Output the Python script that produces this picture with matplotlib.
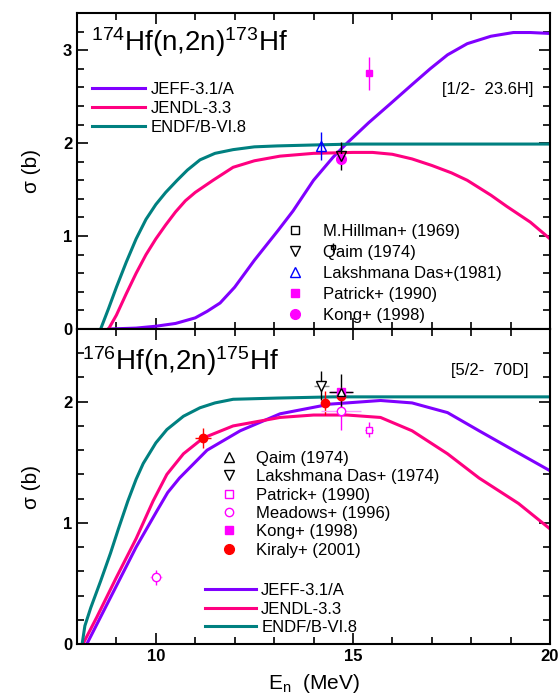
import numpy as np
import matplotlib
matplotlib.use('Agg')
import matplotlib.pyplot as plt
from matplotlib.lines import Line2D

plt.rcParams['font.family'] = ['Liberation Sans', 'DejaVu Sans']
plt.rcParams['mathtext.fontset'] = 'custom'
plt.rcParams['mathtext.rm'] = 'Liberation Sans'
plt.rcParams['mathtext.it'] = 'Liberation Sans:italic'
plt.rcParams['mathtext.bf'] = 'Liberation Sans:bold'

# colours
c_jeff = '#8000ff'
c_jendl = '#ff0080'
c_endf = '#008080'
c_mag = '#ff00ff'

# ---------------- 174Hf(n,2n)173Hf evaluations ----------------
e_jeff_a = [8.8, 9.5, 10.0, 10.5, 11.0, 11.3, 11.63, 12.0, 12.5, 13.1, 13.48, 14.0,
            14.5, 14.85, 15.4, 15.94, 16.5, 16.96, 17.4, 17.9, 18.5, 19.07, 19.5, 20.0]
s_jeff_a = [0.0, 0.01, 0.03, 0.06, 0.12, 0.19, 0.28, 0.45, 0.74, 1.06, 1.27, 1.6,
            1.85, 2.0, 2.22, 2.42, 2.63, 2.8, 2.95, 3.07, 3.15, 3.19, 3.19, 3.18]

e_jendl_a = [8.8, 9.0, 9.25, 9.5, 9.75, 10.0, 10.25, 10.5, 10.75, 11.0, 11.45, 11.96, 12.5,
             13.15, 14.0, 15.0, 15.5, 16.0, 16.5, 17.0, 17.5, 17.9, 18.5, 18.9, 19.5, 20.0]
s_jendl_a = [0.0, 0.15, 0.38, 0.6, 0.8, 0.97, 1.12, 1.26, 1.38, 1.47, 1.6, 1.74, 1.81,
             1.86, 1.89, 1.9, 1.9, 1.88, 1.83, 1.76, 1.68, 1.6, 1.44, 1.32, 1.15, 0.97]

e_endf_a = [8.6, 8.8, 9.0, 9.25, 9.5, 9.75, 10.0, 10.25, 10.54, 10.8, 11.12, 11.5,
            11.96, 12.5, 13.08, 14.0, 15.0, 17.0, 20.0]
s_endf_a = [0.0, 0.22, 0.45, 0.72, 0.97, 1.18, 1.34, 1.47, 1.6, 1.71, 1.82, 1.89,
            1.93, 1.96, 1.97, 1.98, 1.99, 1.99, 1.99]

# measurements (E, sigma, dE, dsigma)
hillman_a = ([14.5], [0.88], [0.0], [0.05])
qaim_a = ([14.7], [1.86], [0.0], [0.15])
das_a = ([14.2], [1.97], [0.0], [0.15])
patrick_a = ([15.4], [2.75], [0.0], [0.18])
kong_a = ([14.7], [1.83], [0.0], [0.0])

# ---------------- 176Hf(n,2n)175Hf evaluations ----------------
e_jeff_b = [8.25, 8.5, 9.0, 9.5, 10.03, 10.3, 10.6, 11.3, 12.14, 13.15, 14.42, 15.7,
            16.5, 17.4, 18.2, 19.07, 20.0]
s_jeff_b = [0.0, 0.16, 0.48, 0.8, 1.10, 1.25, 1.37, 1.6, 1.76, 1.9, 1.98, 2.01,
            1.99, 1.91, 1.76, 1.6, 1.43]

e_jendl_b = [8.15, 8.5, 9.0, 9.5, 9.93, 10.28, 10.7, 11.2, 11.96, 13.15, 14.0, 14.85,
             15.7, 16.5, 17.4, 18.2, 19.2, 20.0]
s_jendl_b = [0.0, 0.22, 0.55, 0.87, 1.18, 1.40, 1.57, 1.70, 1.80, 1.87, 1.89, 1.89,
             1.87, 1.76, 1.57, 1.37, 1.16, 0.95]

e_endf_b = [8.13, 8.2, 8.35, 8.6, 8.85, 9.05, 9.29, 9.5, 9.68, 10.0, 10.28, 10.7,
            11.12, 11.5, 11.96, 13.08, 14.5, 20.0]
s_endf_b = [0.0, 0.15, 0.3, 0.52, 0.75, 0.95, 1.18, 1.36, 1.49, 1.66, 1.77, 1.88,
            1.95, 1.99, 2.02, 2.03, 2.04, 2.04]

qaim_b = ([14.7], [2.08], [0.3], [0.15])
das_b = ([14.2], [2.13], [0.2], [0.12])
patrick_b = ([15.4], [1.77], [0.1], [0.06])
meadows_b = ([10.0, 14.7], [0.55, 1.92], [0.15, 0.5], [0.06, 0.15])
kong_b = ([14.7], [2.08], [0.28], [0.0])
kiraly_b = ([11.2, 14.3, 14.7], [1.70, 1.99, 2.05], [0.2, 0.0, 0.0], [0.08, 0.1, 0.0])

fig = plt.figure(figsize=(5.58, 6.99), dpi=100)
ax1 = fig.add_axes([0.138, 0.5293, 0.8477, 0.4521])
ax2 = fig.add_axes([0.138, 0.0787, 0.8477, 0.4506])

lw = 2.2


def style_axis(ax, ymax, yticks):
    ax.set_xlim(8, 20)
    ax.set_ylim(0, ymax)
    ax.set_xticks([10, 15, 20])
    ax.set_xticks(np.arange(8, 21, 1), minor=True)
    ax.set_yticks(yticks)
    ax.set_yticks(np.arange(0, ymax + 0.01, 0.2), minor=True)
    ax.tick_params(which='both', direction='in', top=True, right=True, width=1.2)
    ax.tick_params(which='major', length=8)
    ax.tick_params(which='minor', length=5)
    for sp in ax.spines.values():
        sp.set_linewidth(1.5)
    for lab in ax.get_xticklabels() + ax.get_yticklabels():
        lab.set_fontweight('bold')
        lab.set_fontsize(12)
    ax.set_ylabel('σ (b)', fontsize=15, labelpad=16)


def points(ax, data, marker, mfc, mec, ecol, ms, hcol=None):
    x, y, dx, dy = data
    ax.errorbar(x, y, yerr=dy, fmt='none', ecolor=ecol, elinewidth=1, capsize=0, zorder=4)
    ax.errorbar(x, y, xerr=dx, fmt='none', ecolor=hcol or ecol, elinewidth=1, capsize=0, zorder=4)
    ax.plot(x, y, ls='none', marker=marker, mfc=mfc, mec=mec, ms=ms, mew=1, zorder=5)


# ---- top panel ----
ax1.plot(e_jeff_a, s_jeff_a, color=c_jeff, lw=lw, label='JEFF-3.1/A')
ax1.plot(e_jendl_a, s_jendl_a, color=c_jendl, lw=lw, label='JENDL-3.3')
ax1.plot(e_endf_a, s_endf_a, color=c_endf, lw=lw, label='ENDF/B-VI.8')

points(ax1, hillman_a, 's', 'none', 'k', 'k', 3)
points(ax1, das_a, '^', 'none', 'b', 'b', 7)
points(ax1, kong_a, 'o', c_mag, c_mag, c_mag, 7)
points(ax1, qaim_a, 'v', 'none', 'k', 'k', 7)
points(ax1, patrick_a, 's', c_mag, c_mag, c_mag, 5)

style_axis(ax1, 3.4, [0, 1, 2, 3])
ax1.tick_params(labelbottom=False)

leg1 = ax1.legend(loc='upper left', bbox_to_anchor=(0.0, 0.83), frameon=False,
                  fontsize=12, handlelength=3.2, handletextpad=0.3, labelspacing=0.25)
ax1.add_artist(leg1)

h1 = [Line2D([], [], ls='none', marker='s', mfc='none', mec='k', ms=6),
      Line2D([], [], ls='none', marker='v', mfc='none', mec='k', ms=7),
      Line2D([], [], ls='none', marker='^', mfc='none', mec='b', ms=7),
      Line2D([], [], ls='none', marker='s', mfc=c_mag, mec=c_mag, ms=6),
      Line2D([], [], ls='none', marker='o', mfc=c_mag, mec=c_mag, ms=7)]
l1 = ['M.Hillman+ (1969)', 'Qaim (1974)', 'Lakshmana Das+(1981)',
      'Patrick+ (1990)', 'Kong+ (1998)']
ax1.legend(h1, l1, loc='upper left', bbox_to_anchor=(0.41, 0.37), frameon=False,
           fontsize=12, handlelength=1.5, handletextpad=0.9, labelspacing=0.36,
           borderpad=0.2)

ax1.text(0.03, 0.88, r'$^{174}$Hf(n,2n)$^{173}$Hf', transform=ax1.transAxes, fontsize=20)
ax1.text(0.965, 0.745, '[1/2-  23.6H]', transform=ax1.transAxes, fontsize=12, ha='right')

# ---- bottom panel ----
ax2.plot(e_jeff_b, s_jeff_b, color=c_jeff, lw=lw, label='JEFF-3.1/A')
ax2.plot(e_jendl_b, s_jendl_b, color=c_jendl, lw=lw, label='JENDL-3.3')
ax2.plot(e_endf_b, s_endf_b, color=c_endf, lw=lw, label='ENDF/B-VI.8')

points(ax2, kiraly_b, 'o', 'r', 'r', 'r', 6)
points(ax2, meadows_b, 'o', 'white', c_mag, c_mag, 6, hcol='#ff99ff')
points(ax2, patrick_b, 's', 'white', c_mag, c_mag, 5)
points(ax2, kong_b, 's', c_mag, c_mag, c_mag, 6)
points(ax2, das_b, 'v', 'white', 'k', 'k', 7, hcol='#888888')
points(ax2, qaim_b, '^', 'white', 'k', 'k', 6)

style_axis(ax2, 2.6, [0, 1, 2])
ax2.set_xlabel(r'E$_{\rm n}$  (MeV)', fontsize=15, labelpad=6)

h2 = [Line2D([], [], ls='none', marker='^', mfc='none', mec='k', ms=7),
      Line2D([], [], ls='none', marker='v', mfc='none', mec='k', ms=7),
      Line2D([], [], ls='none', marker='s', mfc='none', mec=c_mag, ms=6),
      Line2D([], [], ls='none', marker='o', mfc='none', mec=c_mag, ms=6),
      Line2D([], [], ls='none', marker='s', mfc=c_mag, mec=c_mag, ms=6),
      Line2D([], [], ls='none', marker='o', mfc='r', mec='r', ms=7)]
l2 = ['Qaim (1974)', 'Lakshmana Das+ (1974)', 'Patrick+ (1990)',
      'Meadows+ (1996)', 'Kong+ (1998)', 'Kiraly+ (2001)']
leg2 = ax2.legend(h2, l2, loc='upper left', bbox_to_anchor=(0.27, 0.65), frameon=False,
                  fontsize=12, handlelength=1.5, handletextpad=0.9, labelspacing=0.2,
                  borderpad=0.2)
ax2.add_artist(leg2)
ax2.legend(loc='upper left', bbox_to_anchor=(0.245, 0.23), frameon=False,
           fontsize=12, handlelength=3.1, handletextpad=0.3, labelspacing=0.2,
           borderpad=0.2)

ax2.text(0.01, 0.87, r'$^{176}$Hf(n,2n)$^{175}$Hf', transform=ax2.transAxes, fontsize=20)
ax2.text(0.955, 0.855, '[5/2-  70D]', transform=ax2.transAxes, fontsize=12, ha='right')

fig.savefig('out.png', dpi=100)
